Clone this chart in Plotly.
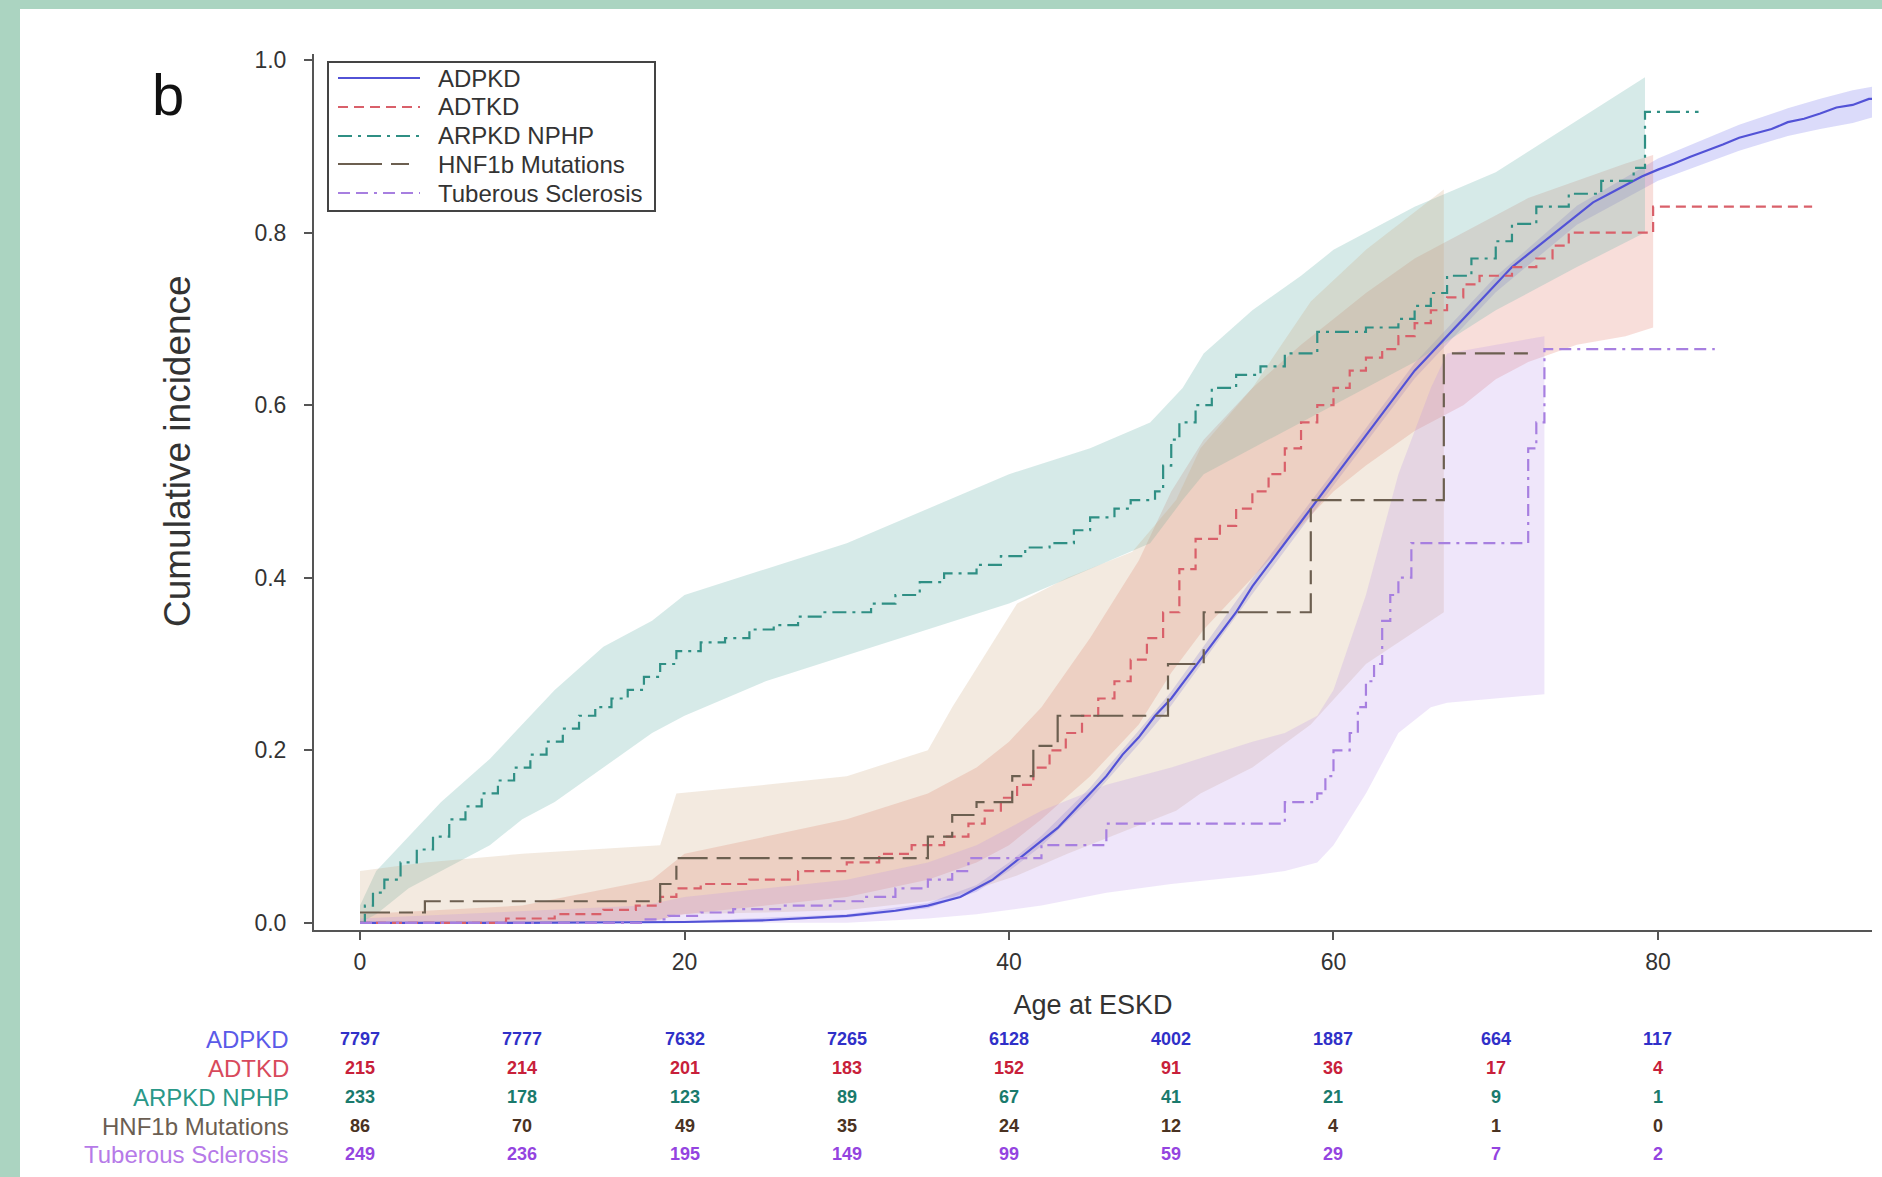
import plotly.graph_objects as go

# ---------------- data ----------------
series_names = ["ADPKD", "ADTKD", "ARPKD NPHP", "HNF1b Mutations", "Tuberous Sclerosis"]

adpkd_x = [0, 10, 20, 25, 30, 33, 35, 37, 38, 39, 40, 41, 42, 43, 44, 45, 46, 47, 48, 49, 50,
           51, 52, 53, 54, 55, 56, 57, 58, 59, 60, 61, 62, 63, 64, 65, 66, 67, 68, 69, 70,
           71, 72, 73, 74, 75, 76, 77, 78, 79, 80, 81, 82, 83, 84, 85, 86, 87, 88, 89, 90,
           91, 92, 93, 93.5]
adpkd_y = [0, 0, 0.001, 0.003, 0.008, 0.014, 0.02, 0.03, 0.04, 0.05, 0.065, 0.08, 0.095, 0.11,
           0.13, 0.15, 0.17, 0.195, 0.215, 0.24, 0.26, 0.285, 0.31, 0.335, 0.36, 0.39, 0.415,
           0.44, 0.465, 0.49, 0.515, 0.54, 0.565, 0.59, 0.615, 0.64, 0.66, 0.68, 0.70, 0.72,
           0.74, 0.76, 0.775, 0.79, 0.805, 0.82, 0.835, 0.845, 0.855, 0.865, 0.873, 0.88,
           0.888, 0.895, 0.902, 0.91, 0.915, 0.92, 0.928, 0.932, 0.938, 0.945, 0.948, 0.955, 0.955]
adpkd_ci_x = [0, 20, 30, 35, 38, 40, 42, 45, 48, 50, 55, 60, 65, 70, 75, 80, 85, 88, 90, 92, 93.5]
adpkd_lo = [0, 0, 0.006, 0.017, 0.036, 0.06, 0.089, 0.143, 0.207, 0.252, 0.381, 0.507, 0.631,
            0.731, 0.809, 0.86, 0.895, 0.912, 0.92, 0.927, 0.935]
adpkd_hi = [0.001, 0.002, 0.010, 0.023, 0.044, 0.07, 0.101, 0.157, 0.223, 0.268, 0.399, 0.523,
            0.649, 0.749, 0.831, 0.886, 0.925, 0.944, 0.955, 0.965, 0.97]

adtkd_x = [0, 9, 12, 15, 17, 18.5, 19.5, 21, 24, 27, 30, 32, 34, 36, 37.5, 38.5, 39.5, 40.5,
           41.5, 42.5, 43.5, 44.5, 45.5, 46.5, 47.5, 48.5, 49.5, 50.5, 51.5, 53, 54, 55, 56,
           57, 58, 59, 60, 61, 62, 63, 64, 65, 66, 67, 68, 69, 71, 72.5, 73.5, 74.5, 79.7, 89.5]
adtkd_y = [0, 0.005, 0.01, 0.015, 0.02, 0.03, 0.04, 0.045, 0.05, 0.06, 0.07, 0.08, 0.09, 0.1,
           0.115, 0.13, 0.145, 0.16, 0.18, 0.2, 0.22, 0.24, 0.26, 0.28, 0.305, 0.33, 0.36, 0.41,
           0.445, 0.46, 0.48, 0.5, 0.52, 0.55, 0.58, 0.6, 0.62, 0.64, 0.655, 0.665, 0.68, 0.695,
           0.71, 0.725, 0.74, 0.75, 0.76, 0.77, 0.785, 0.80, 0.83, 0.83]
adtkd_ci_x = [0, 10, 18, 20, 25, 30, 35, 38, 40, 42, 45, 48, 50, 52, 55, 58, 60, 62, 65, 68,
              70, 72, 75, 78, 79.7]
adtkd_lo = [0, 0, 0.002, 0.01, 0.02, 0.03, 0.05, 0.07, 0.09, 0.12, 0.17, 0.23, 0.29, 0.34,
            0.4, 0.46, 0.5, 0.53, 0.57, 0.6, 0.63, 0.65, 0.67, 0.68, 0.69]
adtkd_hi = [0.01, 0.02, 0.05, 0.08, 0.1, 0.12, 0.15, 0.18, 0.21, 0.25, 0.33, 0.42, 0.5, 0.56,
            0.62, 0.67, 0.7, 0.73, 0.77, 0.8, 0.82, 0.84, 0.86, 0.88, 0.89]

arpkd_x = [0, 0.3, 0.8, 1.5, 2.5, 3.5, 4.5, 5.5, 6.5, 7.5, 8.5, 9.5, 10.5, 11.5, 12.5, 13.5,
           14.5, 15.5, 16.5, 17.5, 18.5, 19.5, 21, 22.5, 24, 25.5, 27, 28.5, 31.5, 33, 34.5,
           36, 38, 39.5, 41, 42.5, 44, 45, 46.5, 47.5, 49, 49.5, 50, 50.5, 51.5, 52.5, 54,
           55.5, 57, 59, 62, 64, 65, 66, 67, 68.5, 70, 71, 72.5, 74.5, 76.5, 78.5, 79.2, 82.5]
arpkd_y = [0, 0.02, 0.035, 0.05, 0.07, 0.085, 0.1, 0.12, 0.135, 0.15, 0.165, 0.18, 0.195, 0.21,
           0.225, 0.24, 0.25, 0.26, 0.27, 0.285, 0.3, 0.315, 0.325, 0.33, 0.34, 0.345, 0.355,
           0.36, 0.37, 0.38, 0.395, 0.405, 0.415, 0.425, 0.435, 0.44, 0.455, 0.47, 0.48, 0.49,
           0.5, 0.53, 0.56, 0.58, 0.6, 0.62, 0.635, 0.645, 0.66, 0.685, 0.69, 0.7, 0.715, 0.73,
           0.75, 0.77, 0.79, 0.81, 0.83, 0.845, 0.86, 0.875, 0.94, 0.94]
arpkd_ci_x = [0, 1, 3, 5, 8, 10, 12, 15, 18, 20, 25, 30, 35, 40, 45, 48.7, 50.7, 52, 55, 58, 60,
              65, 70, 75, 79.2]
arpkd_lo = [0, 0.01, 0.04, 0.06, 0.09, 0.12, 0.14, 0.18, 0.22, 0.24, 0.28, 0.31, 0.34, 0.37,
            0.41, 0.44, 0.49, 0.52, 0.55, 0.58, 0.6, 0.65, 0.71, 0.76, 0.8]
arpkd_hi = [0.02, 0.06, 0.1, 0.14, 0.19, 0.23, 0.27, 0.32, 0.35, 0.38, 0.41, 0.44, 0.48, 0.52,
            0.55, 0.58, 0.62, 0.66, 0.71, 0.75, 0.78, 0.83, 0.87, 0.93, 0.98]

hnf1b_x = [0, 4, 18.5, 19.5, 35, 36.5, 38, 40.2, 41.5, 43, 49.8, 52, 58.6, 66.8, 72.5]
hnf1b_y = [0.012, 0.025, 0.045, 0.075, 0.1, 0.125, 0.14, 0.17, 0.205, 0.24, 0.3, 0.36, 0.49,
           0.66, 0.66]
hnf1b_ci_x = [0, 4, 10, 18.5, 19.5, 25, 30, 35, 36.5, 40.5, 43.6, 47.6, 50.3, 51.8, 55, 58.6,
              62, 66.8]
hnf1b_lo = [0, 0, 0, 0.003, 0.01, 0.012, 0.015, 0.025, 0.03, 0.055, 0.08, 0.11, 0.13, 0.15,
            0.18, 0.23, 0.3, 0.36]
hnf1b_hi = [0.06, 0.07, 0.08, 0.09, 0.15, 0.16, 0.17, 0.2, 0.25, 0.37, 0.4, 0.43, 0.49, 0.55,
            0.62, 0.72, 0.78, 0.85]

ts_x = [0, 17.5, 19, 21, 23, 26, 29, 31, 33, 35, 36.5, 37.5, 42, 46, 57, 59, 59.5, 60, 61,
        61.5, 62, 62.5, 63, 63.5, 64, 64.8, 72, 72.5, 73, 83.5]
ts_y = [0, 0.004, 0.008, 0.012, 0.016, 0.02, 0.025, 0.03, 0.04, 0.05, 0.06, 0.075, 0.09, 0.115,
        0.14, 0.15, 0.17, 0.2, 0.22, 0.25, 0.28, 0.3, 0.35, 0.38, 0.4, 0.44, 0.55, 0.58, 0.665,
        0.665]
ts_ci_x = [0, 17.5, 20, 25, 30, 35, 38, 42, 46, 50, 55, 57, 59, 60, 62, 64, 66, 67, 70, 73]
ts_lo = [0, 0, 0, 0, 0, 0.005, 0.01, 0.02, 0.035, 0.045, 0.055, 0.06, 0.07, 0.09, 0.15, 0.22,
         0.25, 0.255, 0.26, 0.265]
ts_hi = [0.005, 0.02, 0.03, 0.04, 0.05, 0.07, 0.09, 0.13, 0.16, 0.18, 0.21, 0.22, 0.24, 0.27,
         0.38, 0.52, 0.62, 0.66, 0.67, 0.68]

# number at risk
risk_ages = [0, 10, 20, 30, 40, 50, 60, 70, 80]
risk_adpkd = [7797, 7777, 7632, 7265, 6128, 4002, 1887, 664, 117]
risk_adtkd = [215, 214, 201, 183, 152, 91, 36, 17, 4]
risk_arpkd = [233, 178, 123, 89, 67, 41, 21, 9, 1]
risk_hnf1b = [86, 70, 49, 35, 24, 12, 4, 1, 0]
risk_ts = [249, 236, 195, 149, 99, 59, 29, 7, 2]

x_ticks = [0, 20, 40, 60, 80]
y_ticks = [0.0, 0.2, 0.4, 0.6, 0.8, 1.0]

# ---------------- styles ----------------
W, H = 1882, 1177
L, R, T, B = 314, 10, 54, 247
PW, PH = W - L - R, H - T - B
FONT = "Liberation Sans, Arial, sans-serif"

line_colors = ["#5252d6", "#d9606a", "#2f8f84", "#6c5f50", "#a77fe0"]
band_colors = ["rgba(90,90,230,0.22)", "rgba(225,115,100,0.24)", "rgba(120,185,180,0.30)",
               "rgba(200,160,115,0.22)", "rgba(180,140,232,0.22)"]
dashes = ["solid", "10px,6px", "14px,6px,3px,6px", "30px,9px,14px,9px", "12px,6px,12px,6px,3px,6px"]
legend_dashes = ["solid", "10px,6px", "14px,6px,3px,6px", "44px,9px,18px", "12px,6px,12px,6px,3px,6px"]
num_colors = ["#3030c8", "#c8203a", "#1a7a6c", "#4a3222", "#9444e0"]
lab_colors = ["#5a5ae8", "#d84a5c", "#2a9888", "#6b5e52", "#b67ae8"]

curves = [(adpkd_x, adpkd_y, "linear"), (adtkd_x, adtkd_y, "hv"), (arpkd_x, arpkd_y, "hv"),
          (hnf1b_x, hnf1b_y, "hv"), (ts_x, ts_y, "hv")]
bands = [(adpkd_ci_x, adpkd_lo, adpkd_hi), (adtkd_ci_x, adtkd_lo, adtkd_hi),
         (arpkd_ci_x, arpkd_lo, arpkd_hi), (hnf1b_ci_x, hnf1b_lo, hnf1b_hi),
         (ts_ci_x, ts_lo, ts_hi)]
risks = [risk_adpkd, risk_adtkd, risk_arpkd, risk_hnf1b, risk_ts]

fig = go.Figure()

for i, (bx, lo, hi) in enumerate(bands):
    fig.add_trace(go.Scatter(x=bx, y=lo, mode="lines", line=dict(width=0),
                             showlegend=False, hoverinfo="skip"))
    fig.add_trace(go.Scatter(x=bx, y=hi, mode="lines", line=dict(width=0),
                             fill="tonexty", fillcolor=band_colors[i],
                             showlegend=False, hoverinfo="skip"))

for i, (cx, cy, shape) in enumerate(curves):
    fig.add_trace(go.Scatter(x=cx, y=cy, mode="lines", name=series_names[i], showlegend=False,
                             line=dict(color=line_colors[i], width=2.2, dash=dashes[i],
                                       shape=shape)))


def px_to_paper_x(px):
    return (px - L) / PW


def px_to_paper_y(py):
    return (H - B - py) / PH


annotations = []
shapes = [
    dict(type="rect", xref="paper", yref="paper", layer="below",
         x0=px_to_paper_x(20), x1=px_to_paper_x(W + 5), y0=px_to_paper_y(H + 5),
         y1=px_to_paper_y(9), fillcolor="white", line=dict(width=0)),
]

# legend box (drawn manually to match the reference's long line samples)
shapes.append(dict(type="rect", xref="paper", yref="paper", layer="above",
                   x0=px_to_paper_x(328), x1=px_to_paper_x(655),
                   y0=px_to_paper_y(211), y1=px_to_paper_y(62),
                   fillcolor="white", line=dict(color="#444", width=2)))
leg_y = [78, 107, 136, 164, 193]
for i, name in enumerate(series_names):
    shapes.append(dict(type="line", xref="paper", yref="paper", layer="above",
                       x0=px_to_paper_x(338), x1=px_to_paper_x(420),
                       y0=px_to_paper_y(leg_y[i]), y1=px_to_paper_y(leg_y[i]),
                       line=dict(color=line_colors[i], width=2.2, dash=legend_dashes[i])))
    annotations.append(dict(x=px_to_paper_x(436), y=px_to_paper_y(leg_y[i]), xref="paper",
                            yref="paper", text=name, showarrow=False, xanchor="left",
                            yanchor="middle", font=dict(family=FONT, size=24, color="#333")))

row_y = [1039, 1068, 1097, 1126, 1154]
for i, name in enumerate(series_names):
    annotations.append(dict(x=px_to_paper_x(291), y=px_to_paper_y(row_y[i]), xref="paper",
                            yref="paper", text=name, showarrow=False, xanchor="right",
                            yanchor="middle", font=dict(family=FONT, size=24,
                                                        color=lab_colors[i])))
    for a, v in zip(risk_ages, risks[i]):
        annotations.append(dict(x=a, y=px_to_paper_y(row_y[i]), xref="x", yref="paper",
                                text="<b>%d</b>" % v, showarrow=False, xanchor="center",
                                yanchor="middle", font=dict(family=FONT, size=18,
                                                            color=num_colors[i])))

annotations.append(dict(x=px_to_paper_x(168), y=px_to_paper_y(94), xref="paper", yref="paper",
                        text="b", showarrow=False, xanchor="center", yanchor="middle",
                        font=dict(family=FONT, size=58, color="#111")))
annotations.append(dict(x=px_to_paper_x(178), y=px_to_paper_y(451), xref="paper", yref="paper",
                        text="Cumulative incidence", showarrow=False, textangle=-90,
                        xanchor="center", yanchor="middle",
                        font=dict(family=FONT, size=37, color="#333")))

fig.update_layout(
    width=W, height=H,
    margin=dict(l=L, r=R, t=T, b=B, pad=0),
    paper_bgcolor="#abd4c1",
    plot_bgcolor="white",
    font=dict(family=FONT, size=22, color="#333"),
    showlegend=False,
    annotations=annotations,
    shapes=shapes,
)

fig.update_xaxes(range=[-2.835, 93.19], tickvals=x_ticks, ticks="outside", ticklen=8,
                 tickwidth=2, tickcolor="#555", showline=True, linecolor="#555", linewidth=2,
                 showgrid=False, zeroline=False, tickfont=dict(family=FONT, size=23, color="#333"),
                 ticklabelstandoff=2,
                 title=dict(text="Age at ESKD", font=dict(family=FONT, size=27, color="#333"),
                            standoff=22))
fig.update_yaxes(range=[-0.0083, 1.007], tickvals=y_ticks, tickformat=".1f", ticks="outside",
                 ticklen=8, tickwidth=2, tickcolor="#555", showline=True, linecolor="#555",
                 linewidth=2, showgrid=False, zeroline=False,
                 tickfont=dict(family=FONT, size=23, color="#333"), ticklabelstandoff=13)

fig.write_html("out.html", config={"displayModeBar": False},
               post_script="document.body.style.margin='0';document.body.style.overflow='hidden';")
